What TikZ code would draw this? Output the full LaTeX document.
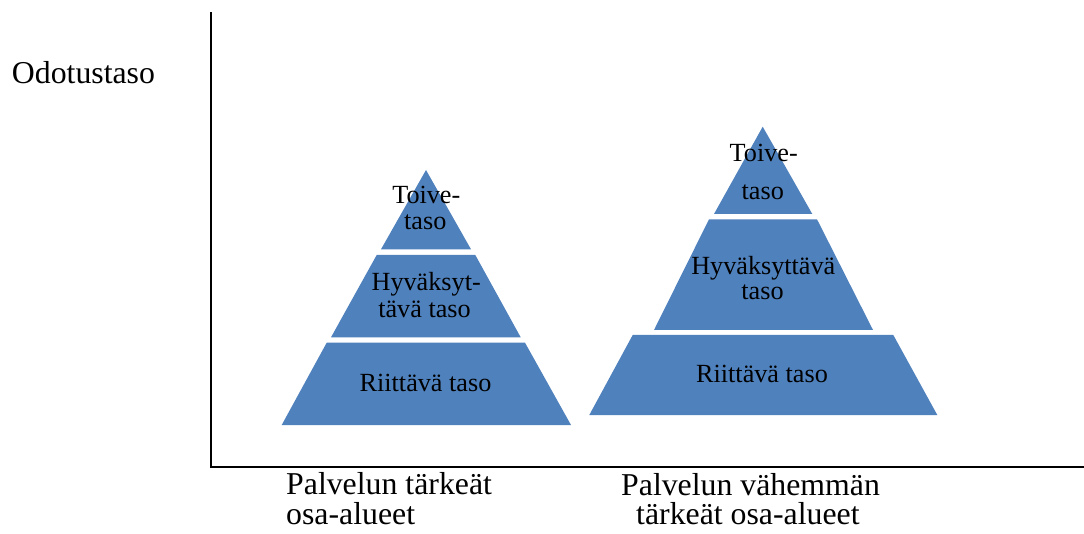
\documentclass[tikz,border=0pt]{standalone}
\usepackage{fontspec}
\setmainfont{Liberation Serif}
\definecolor{pyrblue}{HTML}{4F81BD}
\begin{document}
\begin{tikzpicture}[x=1pt,y=-1pt,
  band/.style={fill=pyrblue,draw=none},
  axisline/.style={draw=black,line width=2pt},
  ptext/.style={inner sep=0pt,anchor=base,font=\fontsize{26.2}{26}\selectfont},
  ltext/.style={inner sep=0pt,anchor=base west,font=\fontsize{31.8}{31}\selectfont}]
\useasboundingbox[fill=white] (0,0) rectangle (1084,534);
% axes
\coordinate (ytop) at (210.5,12.5);
\coordinate (orig) at (210.5,467);
\coordinate (xend) at (1084,467);
\draw[axisline] (ytop) -- (orig) -- (xend);
% left pyramid
\fill[band] (426,170) -- (471,249.3) -- (381,249.3) -- cycle;
\fill[band] (376.7,255) -- (475.3,255) -- (520.7,337.3) -- (331,337.3) -- cycle;
\fill[band] (326.7,342.7) -- (525,342.7) -- (571,425) -- (281.7,425) -- cycle;
% right pyramid
\fill[band] (762.7,126.7) -- (812.3,214) -- (714,214) -- cycle;
\fill[band] (709,219.3) -- (817,219.3) -- (873,330) -- (654,330) -- cycle;
\fill[band] (632.7,335) -- (893.3,335) -- (937.3,415) -- (589.3,415) -- cycle;
% left pyramid texts
\node[ptext] (lt1) at (426.3,203.3) {Toive-};
\node[ptext] (lt2) at (425.3,229.3) {taso};
\node[ptext] (lm1) at (426.2,290.7) {Hyväksyt-};
\node[ptext] (lm2) at (424.5,317.3) {tävä taso};
\node[ptext] (lb1) at (425.5,391.7) {Riittävä taso};
% right pyramid texts
\node[ptext] (rt1) at (763.7,161.7) {Toive-};
\node[ptext] (rt2) at (762.8,200) {taso};
\node[ptext] (rm1) at (763.3,274.3) {Hyväksyttävä};
\node[ptext] (rm2) at (762.5,300) {taso};
\node[ptext] (rb1) at (762,382.3) {Riittävä taso};
% labels
\node[ltext] (ylab) at (11.7,84) {Odotustaso};
\node[ltext] (xl1a) at (286,494.3) {Palvelun tärkeät};
\node[ltext] (xl1b) at (286,524) {osa-alueet};
\node[ltext] (xl2a) at (621,495) {Palvelun vähemmän};
\node[ltext] (xl2b) at (636,524) {tärkeät osa-alueet};
\end{tikzpicture}
\end{document}
